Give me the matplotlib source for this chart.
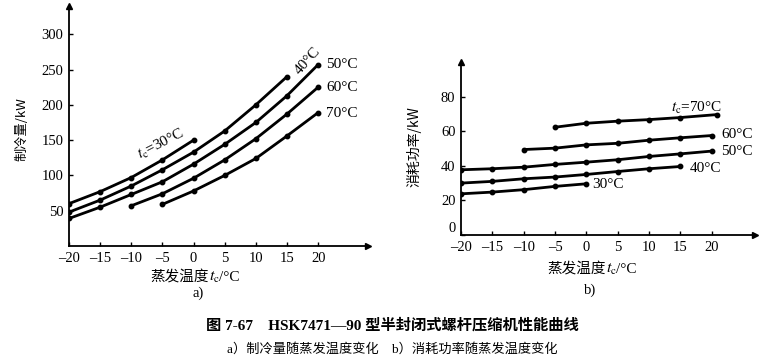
import matplotlib
matplotlib.use("Agg")
import matplotlib.pyplot as plt

plt.rcParams['mathtext.fontset'] = 'stix'
SERIF = ['Liberation Serif', 'Noto Sans CJK SC']
CJK = ['Noto Sans CJK SC', 'DejaVu Sans']

# ---- data: chart a (refrigerating capacity, kW) ----
ticks_x = [-20, -15, -10, -5, 0, 5, 10, 15, 20]
ticks_ya = [50, 100, 150, 200, 250, 300]
a30_x = [-20, -15, -10, -5, 0]
a30_y = [60, 77, 97, 122, 150]
a40_x = [-20, -15, -10, -5, 0, 5, 10, 15]
a40_y = [48, 65, 85, 108, 133, 163, 200, 240]
a50_x = [-20, -15, -10, -5, 0, 5, 10, 15, 20]
a50_y = [39, 55, 73, 91, 116, 144, 175, 213, 257]
a60_x = [-10, -5, 0, 5, 10, 15, 20]
a60_y = [57, 74, 96, 122, 152, 187, 225]
a70_x = [-5, 0, 5, 10, 15, 20]
a70_y = [59, 78, 100, 124, 156, 189]

# ---- data: chart b (power consumption, kW) ----
ticks_yb = [0, 20, 40, 60, 80]
b30_x = [-20, -15, -10, -5, 0]
b30_y = [23.8, 24.8, 26.2, 28.1, 29.6]
b40_x = [-20, -15, -10, -5, 0, 5, 10, 15]
b40_y = [30, 31, 32.5, 33.5, 35, 36.7, 38.3, 39.6]
b50_x = [-20, -15, -10, -5, 0, 5, 10, 15, 20]
b50_y = [37.7, 38.3, 39.2, 40.8, 42.1, 43.5, 45.4, 46.9, 48.5]
b60_x = [-10, -5, 0, 5, 10, 15, 20]
b60_y = [49.4, 50.2, 52.1, 53, 54.8, 56.2, 57.5]
b70_x = [-5, 0, 5, 10, 15, 20.8]
b70_y = [62.3, 64.6, 65.8, 66.7, 67.9, 69.6]

W, H = 775, 360
fig = plt.figure(figsize=(W / 100, H / 100), dpi=100)

def px_axes(l, r, b, t):
    return fig.add_axes([l / W, 1 - b / H, (r - l) / W, (b - t) / H])

def style_axes(ax, xlim, ylim, yticks):
    ax.set_xlim(*xlim)
    ax.set_ylim(*ylim)
    for s in ['top', 'right']:
        ax.spines[s].set_visible(False)
    for s in ['left', 'bottom']:
        ax.spines[s].set_linewidth(1.3)
    ax.set_xticks(ticks_x)
    ax.set_xticklabels(['\u2013' + str(-v) if v < 0 else str(v) for v in ticks_x])
    ax.set_yticks(yticks)
    ax.tick_params(direction='in', length=3, width=1, labelsize=10.5, pad=4)
    for lab in ax.get_xticklabels() + ax.get_yticklabels():
        lab.set_fontfamily(SERIF)
    ax.plot(1, 0, '>', color='k', ms=5, transform=ax.transAxes, clip_on=False)
    ax.plot(0, 1, '^', color='k', ms=5, transform=ax.transAxes, clip_on=False)

def curve(ax, x, y):
    ax.plot(x, y, '-', color='k', lw=2.0, marker='o', ms=3.2, solid_capstyle='round')

# chart a
axa = px_axes(69, 368, 246, 6)
style_axes(axa, (-20, 28), (0, 340), ticks_ya)
for x, y in [(a30_x, a30_y), (a40_x, a40_y), (a50_x, a50_y), (a60_x, a60_y), (a70_x, a70_y)]:
    curve(axa, x, y)
axa.text(-9.5, 123, r'$t_\mathrm{c}$=30°C', rotation=27, fontsize=11, family=SERIF)
axa.text(15.8, 243, '40°C', rotation=48, fontsize=11, family=SERIF)
for yv, lab in [(257, '50°C'), (224, '60°C'), (188, '70°C')]:
    axa.text(21.3, yv, lab, fontsize=11, family=SERIF, va='center')

# chart b
axb = px_axes(461, 755, 235, 62)
style_axes(axb, (-20, 26.9), (0, 100), ticks_yb)
ylabs = axb.get_yticklabels()
ylabs[0].set_verticalalignment('bottom')
for x, y in [(b30_x, b30_y), (b40_x, b40_y), (b50_x, b50_y), (b60_x, b60_y), (b70_x, b70_y)]:
    curve(axb, x, y)
axb.text(13.5, 71, r'$t_\mathrm{c}$=70°C', fontsize=11, family=SERIF)
axb.text(21.5, 58, '60°C', fontsize=11, family=SERIF, va='center')
axb.text(21.5, 48.5, '50°C', fontsize=11, family=SERIF, va='center')
axb.text(16.5, 38.5, '40°C', fontsize=11, family=SERIF, va='center')
axb.text(1.0, 29, '30°C', fontsize=11, family=SERIF, va='center')

# axis labels composed of pieces
renderer = fig.canvas.get_renderer()

def seq_text(xc, yb, pieces):
    objs = []
    for s, kw in pieces:
        objs.append(fig.text(0, 0, s, va='baseline', ha='left', **kw))
    widths = [o.get_window_extent(renderer).width for o in objs]
    x0 = xc - sum(widths) / 2
    for o, w in zip(objs, widths):
        o.set_position((x0 / W, 1 - yb / H))
        x0 += w

xl_pieces = [('蒸发温度', dict(family=CJK, fontsize=10.5)),
             (r'$t_\mathrm{c}$', dict(fontsize=11.5)),
             ('/°C', dict(family=SERIF, fontsize=11))]
seq_text(195, 281, xl_pieces)
seq_text(592, 273, xl_pieces)
fig.text(198 / W, 1 - 293 / H, 'a)', ha='center', va='center', family=SERIF, fontsize=10.5)
fig.text(590 / W, 1 - 290 / H, 'b)', ha='center', va='center', family=SERIF, fontsize=10.5)

fig.text(22 / W, 1 - 129 / H, '制冷量/kW', rotation=90, ha='center', va='center', family=CJK, fontsize=9.5)
fig.text(414 / W, 1 - 147 / H, '消耗功率/kW', rotation=90, ha='center', va='center', family=CJK, fontsize=10)

fig.text(392 / W, 1 - 325 / H, '图 7-67　HSK7471—90 型半封闭式螺杆压缩机性能曲线',
         ha='center', va='center', family=SERIF, fontsize=11, fontweight='bold')
fig.text(392 / W, 1 - 349 / H, 'a）制冷量随蒸发温度变化　b）消耗功率随蒸发温度变化',
         ha='center', va='center', family=SERIF, fontsize=9.5)

fig.savefig('out.png', dpi=100)
